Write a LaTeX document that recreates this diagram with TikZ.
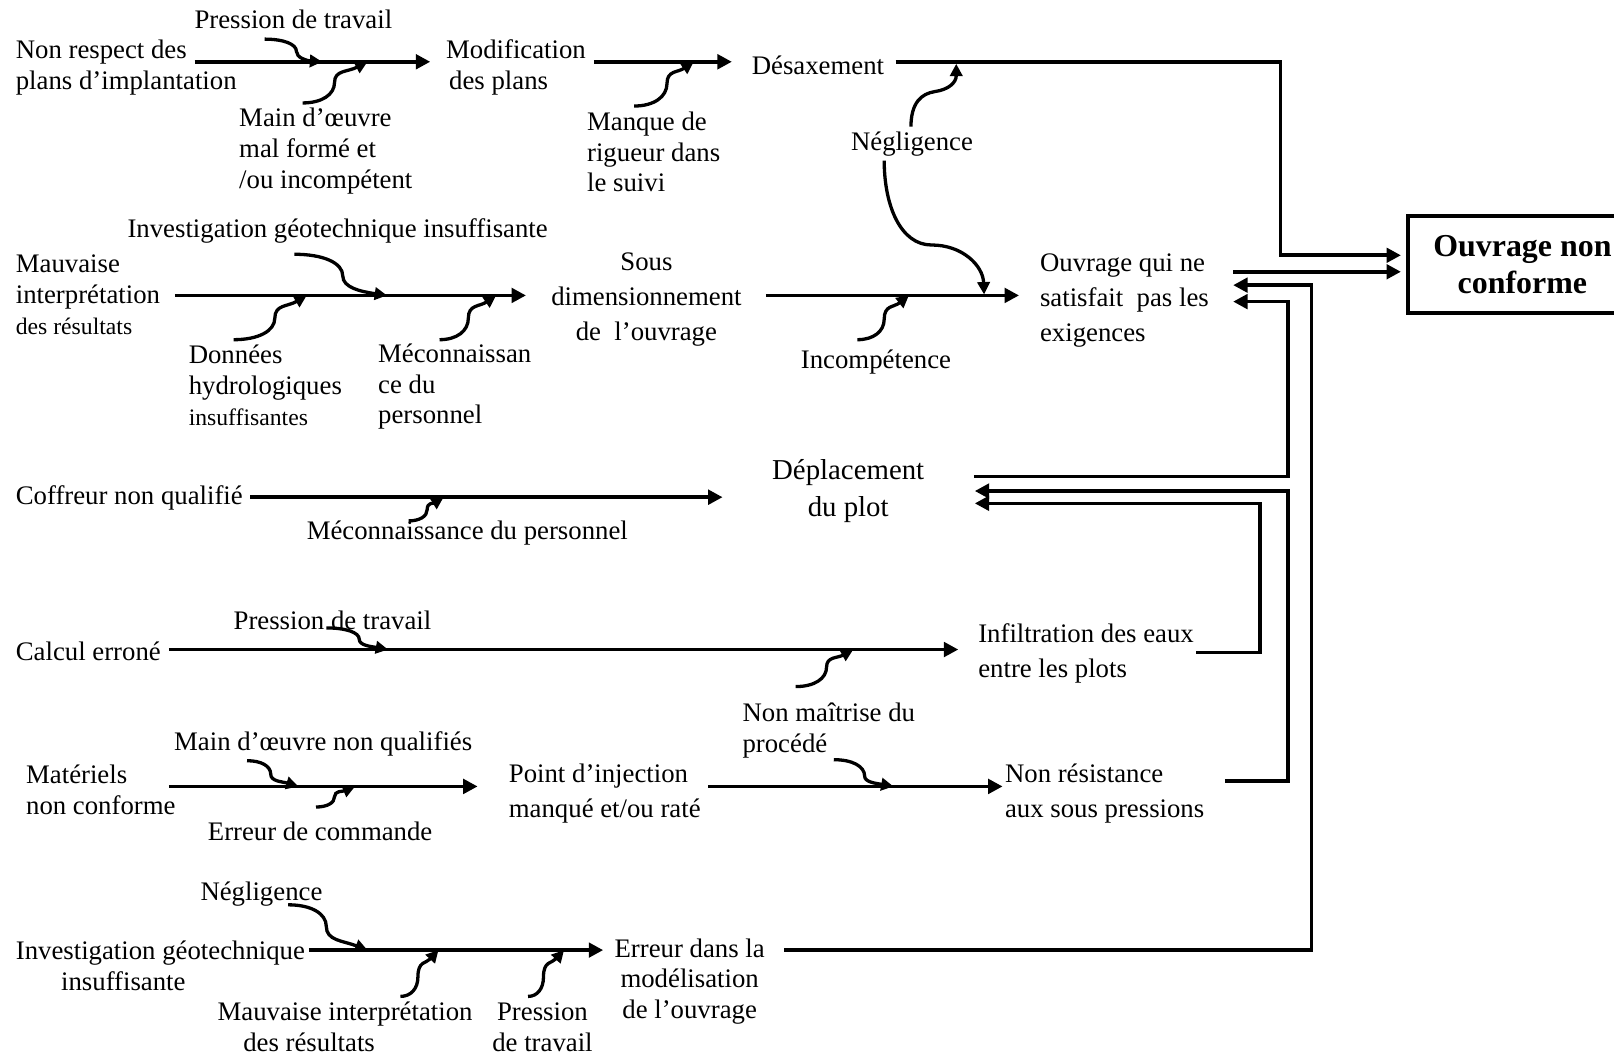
\documentclass[tikz,border=0pt]{standalone}
\usepackage{fontspec}
\setmainfont{Liberation Serif}
\usetikzlibrary{arrows.meta,calc}
\tikzset{
  txt/.style={inner sep=0pt, yshift=-1.3pt, font=\fontsize{13}{15}\selectfont, align=left, anchor=west},
  txtw/.style={inner sep=0pt, yshift=-1.3pt, font=\fontsize{13}{17}\selectfont, align=left, anchor=west},
  txtc/.style={inner sep=0pt, yshift=-1.3pt, font=\fontsize{13}{15}\selectfont, align=center},
  txtcw/.style={inner sep=0pt, yshift=-1.3pt, font=\fontsize{13}{17}\selectfont, align=center},
  main/.style={line width=1.8pt, -{Triangle[length=7pt,width=7pt]}},
  br/.style={line width=1.6pt, -{Triangle[length=6pt,width=6pt]}},
  boxnode/.style={draw, line width=2pt, minimum width=111pt, minimum height=47pt, inner sep=0pt,
    font=\bfseries\fontsize{15.5}{18}\selectfont, align=center},
}
% branch: name, start, mid (vertical tangent), end, end-factor
\newcommand{\brc}[5]{%
  \coordinate (#1s) at (#2);
  \coordinate (#1m) at (#3);
  \coordinate (#1e) at (#4);
  \draw[br] let \p1=($(#1m)-(#1s)$), \p2=($(#1e)-(#1m)$) in
    (#1s) .. controls +({0.6*(\x1)},0pt) and +(0pt,{-0.6*(\y1)}) .. (#1m)
          .. controls +(0pt,{0.6*(\y2)}) and +({-0.6*(\x2)},{-#5*(\y2)}) .. (#1e);
}
\begin{document}
\begin{tikzpicture}[x=0.5pt,y=-0.5pt]
\useasboundingbox (0,0) rectangle (1568,1025);
\fill[white] (0,0) rectangle (1568,1025);

% ---------- Row 1 ----------
\node[txt] (nr) at (15,63) {Non respect des\\plans d’implantation};
\node[txtc] (p1) at (285,16) {Pression de travail};
\node[txt] (mo1) at (232,144) {Main d’œuvre\\mal formé et\\/ou incompétent};
\node[txt] (mod) at (433,63) {Modification\\\hspace*{1.5pt}des plans};
\node[txt] (mq) at (570,145) {Manque de\\rigueur dans\\le suivi};
\node[txt] (des) at (730,61) {Désaxement};
\node[txtc] (neg1) at (886,137) {Négligence};

\coordinate (a1s) at (189,60); \coordinate (a1e) at (418,60);
\draw[main] (a1s) -- (a1e);
\brc{b1}{257,38}{288,50}{313,60}{0.1}
\brc{b2}{294,100}{325,80}{357,60}{0.5}
\coordinate (a2s) at (577,60); \coordinate (a2e) at (711,60);
\draw[main] (a2s) -- (a2e);
\brc{b3}{616,103}{648,81}{674,60}{0.5}

\coordinate (d1) at (870,60); \coordinate (j1) at (1244,248); \coordinate (t1) at (1361,248);
\draw[main] (d1) -| (j1) -- (t1);

\coordinate (n1s) at (885,123); \coordinate (n1e) at (929,62);
\draw[br] (n1s) .. controls (885,100) and (895,91) .. (908,89) .. controls (922,87) and (929,80) .. (n1e);
\coordinate (n2s) at (859,156); \coordinate (n2e) at (956,286);
\draw[br] (n2s) .. controls (859,200) and (875,238) .. (905,238) .. controls (935,238) and (955,258) .. (n2e);

% ---------- Row 2 ----------
\node[txtc] (ig) at (328,222) {Investigation géotechnique insuffisante};
\node[txt] (mi) at (15,284) {Mauvaise\\interprétation\\{\fontsize{11.5}{14}\selectfont des résultats}};
\node[txt] (dh) at (183,372) {Données\\hydrologiques\\{\fontsize{11.5}{14}\selectfont insuffisantes}};
\node[txt] (mc) at (367,373) {Méconnaissan\\ce du\\personnel};
\node[txtcw] (sd) at (628,288) {Sous\\dimensionnement\\de~ l’ouvrage};
\node[txtw] (oq) at (1010,289) {Ouvrage qui ne\\satisfait~ pas les\\exigences};
\node[txtc] (inc) at (851,349) {Incompétence};

\coordinate (a3s) at (170,287); \coordinate (a3e) at (511,287);
\draw[main] (a3s) -- (a3e);
\brc{b4}{227,330}{267,309}{298,287}{0.5}
\brc{b5}{286,247}{333,268}{376,287}{0.2}
\brc{b6}{427,330}{455,309}{482,287}{0.5}
\coordinate (a4s) at (744,287); \coordinate (a4e) at (990,287);
\draw[main] (a4s) -- (a4e);
\brc{b7}{833,330}{859,310}{883,287}{0.5}

\coordinate (o1) at (1198,264); \coordinate (t2) at (1361,264);
\draw[main] (o1) -- (t2);

% ---------- Row 3 ----------
\node[inner sep=0pt, yshift=-1.3pt, font=\fontsize{14}{18}\selectfont, align=center] (dp) at (824,474) {Déplacement\\du plot};
\node[txt] (cf) at (15,481) {Coffreur non qualifié};
\node[txtc] (mp) at (454,515) {Méconnaissance du personnel};
\coordinate (a5s) at (243,483); \coordinate (a5e) at (702,483);
\draw[main] (a5s) -- (a5e);
\brc{b8}{397,506}{415,495}{431,483}{0.5}

\coordinate (dpo) at (946,463); \coordinate (j2) at (1251,293); \coordinate (t3) at (1198,293);
\draw[main] (dpo) -| (j2) -- (t3);

% ---------- Row 4 ----------
\node[txtc] (p4) at (323,600) {Pression de travail};
\node[txt] (ce) at (15,630) {Calcul erroné};
\coordinate (a6s) at (164,631); \coordinate (a6e) at (931,631);
\draw[main] (a6s) -- (a6e);
\brc{b9}{317,610}{349,621}{377,631}{0.3}
\brc{b10}{773,667}{803,648}{829,631}{0.5}
\node[txtw] (inf) at (950,632) {Infiltration des eaux\\entre les plots};
\node[txt] (nm) at (721,707) {Non maîtrise du\\procédé};

\coordinate (inf1) at (1162,634); \coordinate (j3) at (1224,489); \coordinate (t4) at (947,489);
\draw[main] (inf1) -| (j3) -- (t4);

% ---------- Row 5 ----------
\node[txtc] (mo5) at (314,720) {Main d’œuvre non qualifiés};
\node[txt] (mat) at (25,765) {Matériels\\non conforme};
\coordinate (a7s) at (164,764); \coordinate (a7e) at (464,764);
\draw[main] (a7s) -- (a7e);
\brc{b11}{240,739}{263,752}{290,764}{0.4}
\brc{b12}{307,784}{325,774}{345,764}{0.5}
\node[txtc] (ec) at (311,805) {Erreur de commande};
\node[txtw] (pi) at (494,768) {Point d’injection\\manqué et/ou raté};
\coordinate (a8s) at (688,764); \coordinate (a8e) at (974,764);
\draw[main] (a8s) -- (a8e);
\brc{b13}{810,738}{840,754}{868,764}{0.3}
\node[txtw] (nrs) at (976,768) {Non résistance\\aux sous pressions};

\coordinate (nr1) at (1190,759); \coordinate (j4) at (1251,477); \coordinate (t5) at (947,477);
\draw[main] (nr1) -| (j4) -- (t5);

% ---------- Row 6 ----------
\node[txtc] (ng6) at (254,866) {Négligence};
\node[txt] (ig6) at (15,936) {Investigation géotechnique\\\hspace*{22pt}insuffisante};
\coordinate (a9s) at (300,923); \coordinate (a9e) at (586,923);
\draw[main] (a9s) -- (a9e);
\brc{b14}{280,879}{317,900}{357,923}{0.4}
\brc{b15}{389,968}{406,949}{426,923}{0.5}
\brc{b16}{513,968}{528,949}{548,923}{0.5}
\node[txt] (mi6) at (211,995) {Mauvaise interprétation\\\hspace*{12.5pt}des résultats};
\node[txtc] (pt6) at (527,995) {Pression\\de travail};
\node[txtc] (er) at (670,951) {Erreur dans la\\modélisation\\de l’ouvrage};

\coordinate (er1) at (762,923); \coordinate (j5) at (1274,277); \coordinate (t6) at (1198,277);
\draw[main] (er1) -| (j5) -- (t6);

% ---------- Result box ----------
\node[boxnode] (onc) at (1479,257) {Ouvrage non\\conforme};

\end{tikzpicture}
\end{document}
